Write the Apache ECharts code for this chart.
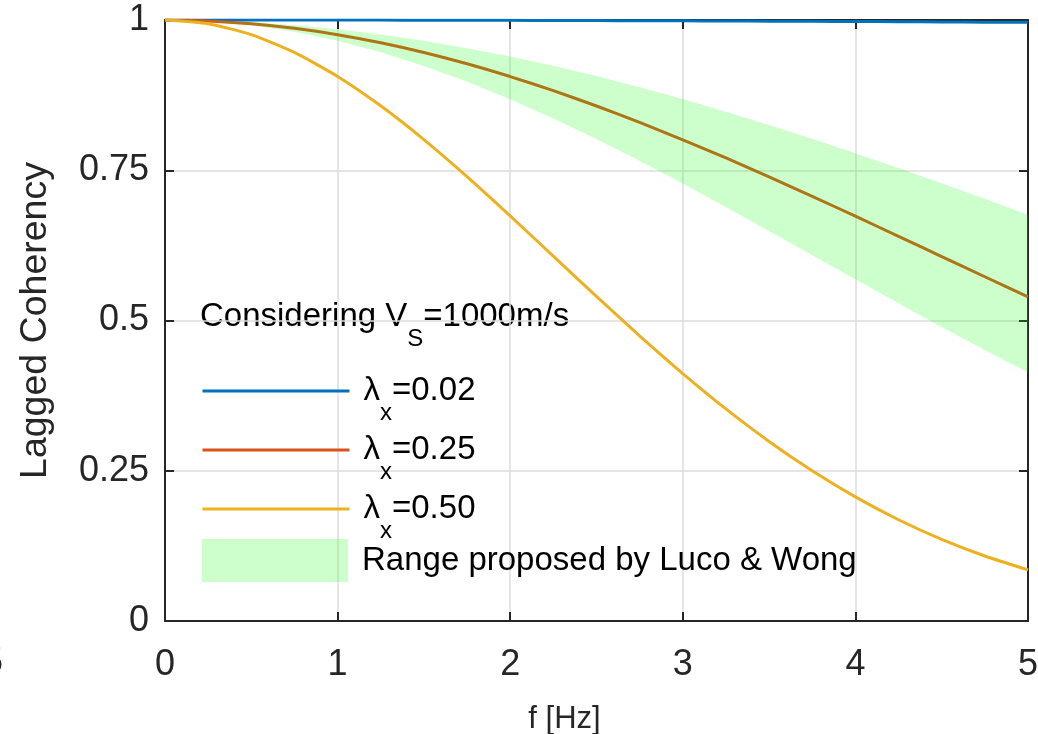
<!DOCTYPE html>
<html><head><meta charset="utf-8">
<script src="https://cdn.jsdelivr.net/npm/echarts@6/dist/echarts.min.js"></script>
<style>html,body{margin:0;padding:0;background:#fff}#c{width:1038px;height:734px}</style>
</head><body><div id="c"></div>
<script>
const freq = [0,0.25,0.5,0.75,1,1.25,1.5,1.75,2,2.25,2.5,2.75,3,3.25,3.5,3.75,4,4.25,4.5,4.75,5];
const coh002 = [1,1.0000,1.0000,0.9999,0.9998,0.9998,0.9996,0.9995,0.9994,0.9992,0.9990,0.9988,0.9986,0.9983,0.9981,0.9978,0.9975,0.9971,0.9968,0.9964,0.9961];
const coh025 = [1,0.9985,0.9938,0.9862,0.9756,0.9621,0.9459,0.9271,0.9059,0.8825,0.8569,0.8296,0.8007,0.7704,0.7389,0.7066,0.6735,0.6401,0.6064,0.5728,0.5393];
const coh050 = [1,0.9939,0.9757,0.9460,0.9061,0.8572,0.8010,0.7394,0.6741,0.6070,0.5400,0.4744,0.4117,0.3529,0.2988,0.2499,0.2065,0.1685,0.1358,0.1081,0.0850];
const lucoWongUpper = [1,0.9990,0.9961,0.9912,0.9845,0.9758,0.9654,0.9532,0.9393,0.9238,0.9068,0.8883,0.8685,0.8475,0.8254,0.8024,0.7784,0.7536,0.7282,0.7024,0.6760];
const lucoWongLower = [1,0.9978,0.9912,0.9803,0.9653,0.9463,0.9236,0.8975,0.8683,0.8363,0.8020,0.7657,0.7278,0.6888,0.6489,0.6087,0.5685,0.5286,0.4893,0.4509,0.4138];
const xTickLabels = ['0','1','2','3','4','5'];
const yTickLabels = ['0','0.25','0.5','0.75','1'];
const seriesNames = ['λx=0.02','λx=0.25','λx=0.50'];
const seriesLabels = ['0.02','0.25','0.50'];
const bandName = 'Range proposed by Luco & Wong';
const colors = ['#0072BD','#D95319','#EDB120'];

const FONT = "'Liberation Sans', Arial, Helvetica, sans-serif";
const TXT = '#262626';
const chart = echarts.init(document.getElementById('c'), null, {renderer:'canvas'});

const axisLine = {show:true, onZero:false, lineStyle:{color:TXT, width:2}};
const axisTick = {show:true, inside:true, length:9, lineStyle:{color:TXT, width:2}};
const splitLine = {show:true, lineStyle:{color:'#dcdcdc', width:1.5}};

const series = [coh002, coh025, coh050].map((arr, k) => ({
  name: seriesNames[k], type:'line', symbol:'none', smooth:0.2,
  data: freq.map((f,i)=>[f, arr[i]]),
  color: colors[k],
  lineStyle:{color:colors[k], width:3}, z:2
}));
series.push({
  name: bandName, type:'custom', z:3, clip:true,
  itemStyle:{color:'rgba(0,255,0,0.2)'},
  data:[[2.5,0.5]],
  renderItem:(params, api) => {
    const pts = [];
    for (let i=0;i<freq.length;i++) pts.push(api.coord([freq[i], lucoWongUpper[i]]));
    for (let i=freq.length-1;i>=0;i--) pts.push(api.coord([freq[i], lucoWongLower[i]]));
    return {type:'polygon', shape:{points:pts}, style:{fill:'rgba(0,255,0,0.2)', stroke:null}};
  }
});

const richLegend = {
  a:{fontSize:33, fontFamily:FONT, color:'#000', lineHeight:33},
  sub:{fontSize:24, fontFamily:FONT, color:'#000', lineHeight:24, padding:[44,0,0,0]}
};

const lineCenters = [391, 450, 509];
const lineLegends = seriesNames.map((n, k) => ({
  orient:'vertical', left:201, top:lineCenters[k] - 34, padding:0,
  itemWidth:147, itemHeight:14, selectedMode:false,
  itemStyle:{opacity:0},
  lineStyle:{width:3},
  data:[{name:n}],
  formatter:(name)=>'{a|λ}{sub|x}{a|=' + seriesLabels[seriesNames.indexOf(name)] + '}',
  textStyle:{rich:richLegend, padding:[0,0,0,9]}
}));

chart.setOption({
  animation:false,
  textStyle:{fontFamily:FONT},
  grid:{left:165, right:10, top:20, bottom:113, containLabel:false, outerBoundsMode:'none'},
  xAxis:[{
    type:'value', min:0, max:5, interval:1, position:'bottom',
    name:'f [Hz]', nameLocation:'middle', nameGap:83,
    nameTextStyle:{fontSize:31, color:TXT, fontFamily:FONT, padding:[0,64,0,0]},
    axisLine, axisTick,
    axisLabel:{fontSize:36, color:TXT, margin:26, fontFamily:FONT, formatter:(v)=>xTickLabels[Math.round(v)]},
    splitLine
  },{
    type:'value', min:0, max:5, interval:1, position:'top',
    axisLine, axisTick, axisLabel:{show:false}, splitLine:{show:false}
  }],
  yAxis:[{
    type:'value', min:0, max:1, interval:0.25, position:'left',
    name:'Lagged Coherency', nameLocation:'middle', nameGap:110,
    nameTextStyle:{fontSize:37.5, color:TXT, fontFamily:FONT},
    axisLine, axisTick,
    axisLabel:{fontSize:36, color:TXT, margin:16, fontFamily:FONT, formatter:(v)=>yTickLabels[Math.round(v*4)]},
    splitLine
  },{
    type:'value', min:0, max:1, interval:0.25, position:'right',
    axisLine, axisTick, axisLabel:{show:false}, splitLine:{show:false}
  }],
  legend: lineLegends.concat([{
    orient:'vertical', left:202, top:539, padding:0,
    itemWidth:146, itemHeight:43, selectedMode:false,
    data:[{name:bandName, icon:'rect', itemStyle:{color:'rgba(0,255,0,0.2)'}}],
    textStyle:{fontSize:33, color:'#000', fontFamily:FONT, padding:[0,0,0,9]}
  }]),
  graphic:[{
    type:'text', left:200, top:283,
    style:{text:'{a|Considering V}{sub|S}{a|=1000m/s}', rich:richLegend}
  },{
    type:'text', x:-17, y:645,
    style:{text:'5', fontSize:36, fontFamily:FONT, fill:TXT}
  }],
  series
});
</script></body></html>
